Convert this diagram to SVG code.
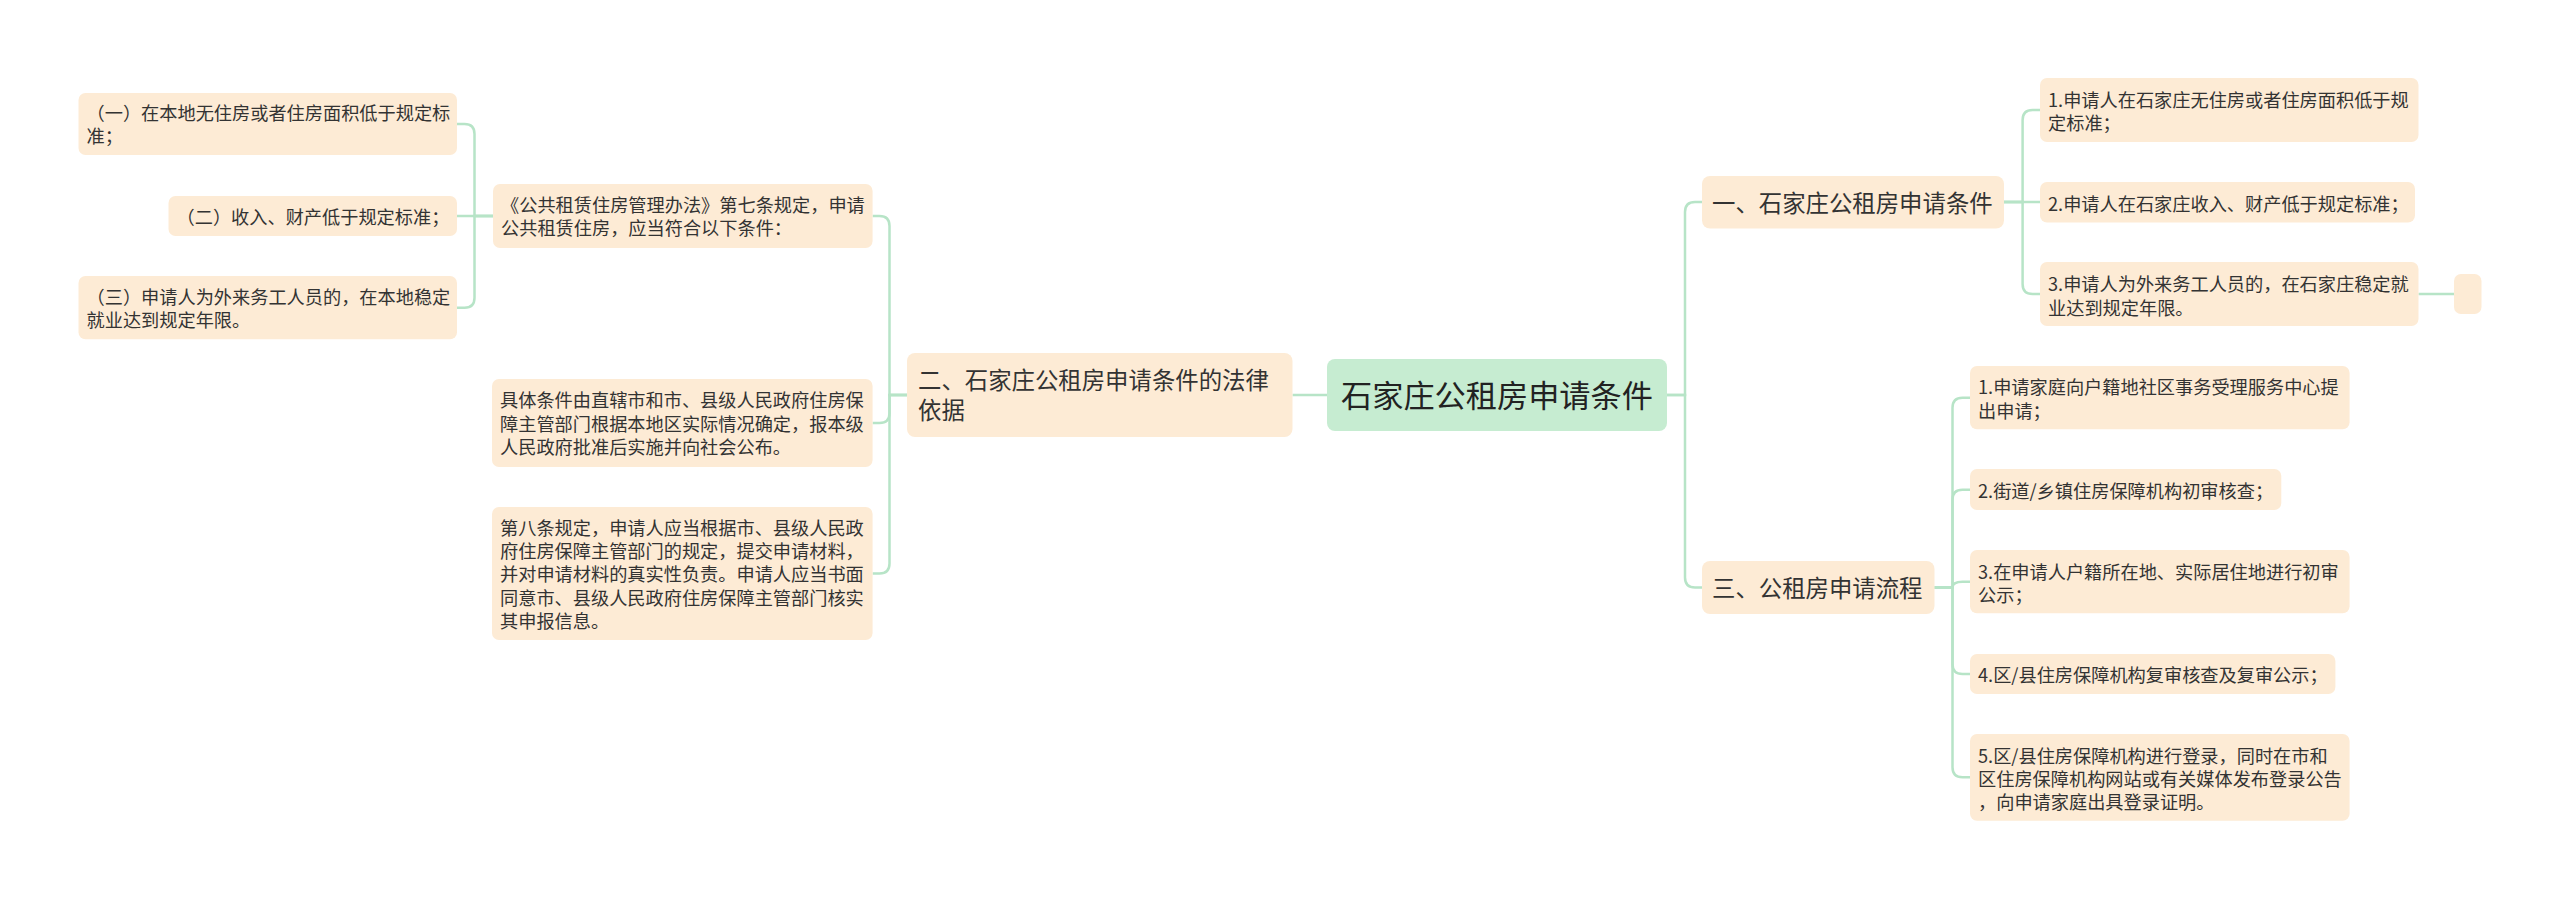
<svg xmlns="http://www.w3.org/2000/svg" width="2560" height="899" viewBox="0 0 2560 899">
<style>
.bg{fill:#ffffff}
.n rect{fill:#fdebd5}
.r rect{fill:#c6ecd1}
.c path{fill:none;stroke:#b7e4c7;stroke-width:2.5}
text{font-family:"Noto Sans CJK SC","Noto Sans",sans-serif;fill:#333333}
.t{font-size:18.2px}
.t1{font-size:23.4px}
.t0{font-size:31.2px;fill:#222222}
</style>
<rect class="bg" x="0" y="0" width="2560" height="899"/>
<g id="connectors" class="c">
<path d="M1327,395 H1292.5"/>
<path d="M907,395 H889.5 V226 Q889.5,216 879.5,216 H872.6"/>
<path d="M907,395 H889.5 V413 Q889.5,423 879.5,423 H872.6"/>
<path d="M907,395 H889.5 V563.5 Q889.5,573.5 879.5,573.5 H872.6"/>
<path d="M493,216 H474.5 V134 Q474.5,124 464.5,124 H457"/>
<path d="M493,216 H457"/>
<path d="M493,216 H474.5 V297.7 Q474.5,307.7 464.5,307.7 H457"/>
<path d="M1667,395 H1685 V212 Q1685,202 1695,202 H1702"/>
<path d="M1667,395 H1685 V577.5 Q1685,587.5 1695,587.5 H1702"/>
<path d="M2004,202 H2022.6 V120 Q2022.6,110 2032.6,110 H2040"/>
<path d="M2004,202 H2040"/>
<path d="M2004,202 H2022.6 V284 Q2022.6,294 2032.6,294 H2040"/>
<path d="M2418.5,294 H2454"/>
<path d="M1934.5,587.5 H1952.5 V407.7 Q1952.5,397.7 1962.5,397.7 H1970"/>
<path d="M1934.5,587.5 H1952.5 V499.7 Q1952.5,489.7 1962.5,489.7 H1970"/>
<path d="M1934.5,587.5 H1952.5 Q1952.5,581.7 1962.5,581.7 H1970"/>
<path d="M1934.5,587.5 H1952.5 V664 Q1952.5,674 1962.5,674 H1970"/>
<path d="M1934.5,587.5 H1952.5 V767.3 Q1952.5,777.3 1962.5,777.3 H1970"/>
</g>
<g id="root" class="r">
<rect x="1327" y="359" width="340" height="72" rx="8"/>
<text class="t0" x="1341" y="407">石家庄公租房申请条件</text>
</g>
<g id="l2" class="n">
<rect x="907" y="353" width="385.5" height="84" rx="8"/>
<text class="t1" x="918" y="389">二、石家庄公租房申请条件的法律</text>
<text class="t1" x="918" y="419">依据</text>
</g>
<g id="b1" class="n">
<rect x="493" y="184" width="379.6" height="64" rx="7"/>
<text class="t" x="501" y="211.8">《公共租赁住房管理办法》第七条规定，申请</text>
<text class="t" x="501" y="235.2">公共租赁住房，应当符合以下条件：</text>
</g>
<g id="a1" class="n">
<rect x="78.5" y="93" width="378.5" height="62" rx="7"/>
<text class="t" x="86.5" y="119.8">（一）在本地无住房或者住房面积低于规定标</text>
<text class="t" x="86.5" y="143.2">准；</text>
</g>
<g id="a2" class="n">
<rect x="168.5" y="196" width="288.5" height="40" rx="7"/>
<text class="t" x="176.5" y="223.5">（二）收入、财产低于规定标准；</text>
</g>
<g id="a3" class="n">
<rect x="78.5" y="276" width="378.5" height="63.3" rx="7"/>
<text class="t" x="86.5" y="303.5">（三）申请人为外来务工人员的，在本地稳定</text>
<text class="t" x="86.5" y="326.9">就业达到规定年限。</text>
</g>
<g id="b2" class="n">
<rect x="492" y="379" width="380.6" height="88" rx="7"/>
<text class="t" x="500" y="407.1">具体条件由直辖市和市、县级人民政府住房保</text>
<text class="t" x="500" y="430.5">障主管部门根据本地区实际情况确定，报本级</text>
<text class="t" x="500" y="453.9">人民政府批准后实施并向社会公布。</text>
</g>
<g id="b3" class="n">
<rect x="492" y="507" width="380.6" height="133" rx="7"/>
<text class="t" x="500" y="534.5">第八条规定，申请人应当根据市、县级人民政</text>
<text class="t" x="500" y="557.9">府住房保障主管部门的规定，提交申请材料，</text>
<text class="t" x="500" y="581.3">并对申请材料的真实性负责。申请人应当书面</text>
<text class="t" x="500" y="604.7">同意市、县级人民政府住房保障主管部门核实</text>
<text class="t" x="500" y="628.1">其申报信息。</text>
</g>
<g id="l1a" class="n">
<rect x="1702" y="176" width="302" height="52.5" rx="8"/>
<text class="t1" x="1712" y="211.5">一、石家庄公租房申请条件</text>
</g>
<g id="c1" class="n">
<rect x="2040" y="78" width="378.5" height="64" rx="7"/>
<text class="t" x="2048" y="106.5">1.申请人在石家庄无住房或者住房面积低于规</text>
<text class="t" x="2048" y="130">定标准；</text>
</g>
<g id="c2" class="n">
<rect x="2040" y="182" width="375" height="40.5" rx="7"/>
<text class="t" x="2048" y="210.5">2.申请人在石家庄收入、财产低于规定标准；</text>
</g>
<g id="c3" class="n">
<rect x="2040" y="262" width="378.5" height="64" rx="7"/>
<text class="t" x="2048" y="291">3.申请人为外来务工人员的，在石家庄稳定就</text>
<text class="t" x="2048" y="314.5">业达到规定年限。</text>
</g>
<g id="c3e" class="n">
<rect x="2454" y="274" width="27.5" height="40" rx="7"/>
</g>
<g id="l1b" class="n">
<rect x="1702" y="561" width="232.5" height="53" rx="8"/>
<text class="t1" x="1712" y="596.5">三、公租房申请流程</text>
</g>
<g id="d1" class="n">
<rect x="1970" y="366" width="379.6" height="63.3" rx="7"/>
<text class="t" x="1978" y="394">1.申请家庭向户籍地社区事务受理服务中心提</text>
<text class="t" x="1978" y="417.5">出申请；</text>
</g>
<g id="d2" class="n">
<rect x="1970" y="469" width="311.3" height="41" rx="7"/>
<text class="t" x="1978" y="498">2.街道/乡镇住房保障机构初审核查；</text>
</g>
<g id="d3" class="n">
<rect x="1970" y="550" width="379.6" height="63.3" rx="7"/>
<text class="t" x="1978" y="578.5">3.在申请人户籍所在地、实际居住地进行初审</text>
<text class="t" x="1978" y="602">公示；</text>
</g>
<g id="d4" class="n">
<rect x="1970" y="654" width="365.4" height="40" rx="7"/>
<text class="t" x="1978" y="682">4.区/县住房保障机构复审核查及复审公示；</text>
</g>
<g id="d5" class="n">
<rect x="1970" y="734" width="379.6" height="86.7" rx="7"/>
<text class="t" x="1978" y="762.5">5.区/县住房保障机构进行登录，同时在市和</text>
<text class="t" x="1978" y="786">区住房保障机构网站或有关媒体发布登录公告</text>
<text class="t" x="1978" y="809">，向申请家庭出具登录证明。</text>
</g>
</svg>
